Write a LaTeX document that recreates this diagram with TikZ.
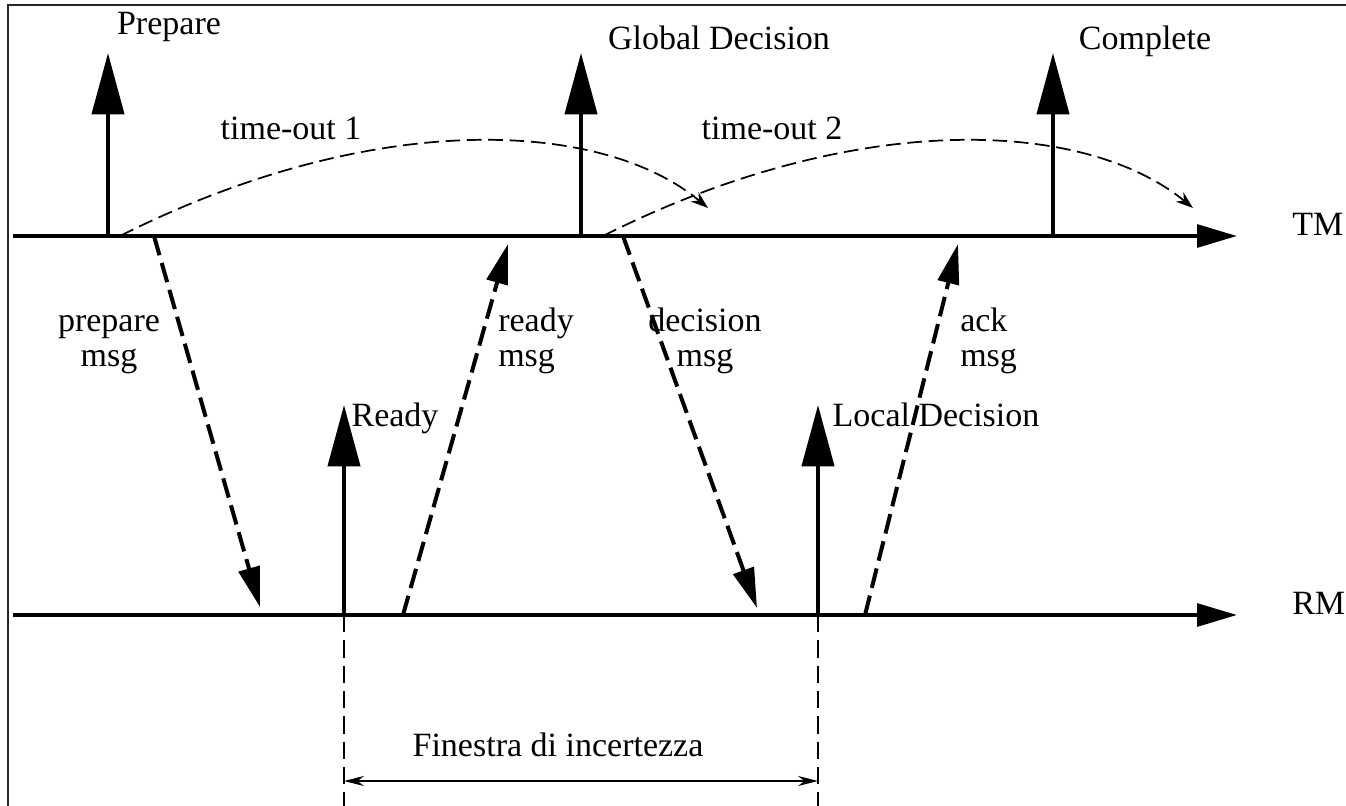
\documentclass[tikz,border=0pt]{standalone}
\usepackage{fontspec}
\setmainfont{Liberation Serif}
\usetikzlibrary{arrows.meta}
\begin{document}
\begin{tikzpicture}[x=0.75pt,y=-0.75pt,
 lbl/.style={inner sep=0pt, font=\fontsize{25.5}{26.25}\selectfont},
 axisline/.style={line width=3pt, -{Triangle[length=30pt,width=17pt]}},
 event/.style={line width=3pt, -{Triangle[length=46pt,width=24pt]}},
 msgarrow/.style={line width=3pt, dash pattern=on 15pt off 6pt, -{Triangle[length=30pt,width=16pt]}},
 timeout/.style={line width=1.3pt, dash pattern=on 11pt off 5pt, -{Stealth[length=13pt,width=9pt]}},
 guide/.style={line width=1.1pt, dash pattern=on 13pt off 6pt},
 window/.style={line width=1.1pt, {Stealth[length=15pt,width=7.5pt]}-{Stealth[length=15pt,width=7.5pt]}},
 frame/.style={line width=1.2pt, black!85}
]
\useasboundingbox (0,0) rectangle (1346,806);
\draw[frame] (8,5) rectangle (1360,820);

% axes
\coordinate (tmS) at (13,236); \coordinate (tmE) at (1237,236);
\coordinate (rmS) at (13,615); \coordinate (rmE) at (1237,615);
\draw[axisline] (tmS) -- (tmE);
\draw[axisline] (rmS) -- (rmE);
\node[lbl, anchor=base west] (tm) at (1292,235) {TM};
\node[lbl, anchor=base west] (rm) at (1292,614) {RM};

% events on TM
\coordinate (prepB) at (108,236); \coordinate (prepT) at (108,53);
\coordinate (globB) at (581,236); \coordinate (globT) at (581,53);
\coordinate (compB) at (1053,236); \coordinate (compT) at (1053,53);
\draw[event] (prepB) -- (prepT);
\draw[event] (globB) -- (globT);
\draw[event] (compB) -- (compT);
\node[lbl, anchor=base] (prepL) at (169,35) {Prepare};
\node[lbl, anchor=base] (globL) at (719,50) {Global Decision};
\node[lbl, anchor=base] (compL) at (1145,50) {Complete};

% events on RM
\coordinate (readyB) at (344,615); \coordinate (readyT) at (344,405);
\coordinate (localB) at (818,615); \coordinate (localT) at (818,405);
\draw[event] (readyB) -- (readyT);
\draw[event] (localB) -- (localT);
\node[lbl, anchor=base] (readyL) at (395,426) {Ready};
\node[lbl, anchor=base] (localL) at (936,426) {Local Decision};

% time-outs
\coordinate (to1S) at (120,236); \coordinate (to1E) at (708,208);
\coordinate (to2S) at (603,236); \coordinate (to2E) at (1193,208);
\draw[timeout] (to1S) .. controls (370,110) and (600,118) .. (to1E);
\draw[timeout] (to2S) .. controls (853,110) and (1083,118) .. (to2E);
\node[lbl, anchor=base] (to1L) at (291,140) {time-out 1};
\node[lbl, anchor=base] (to2L) at (772,140) {time-out 2};

% messages
\coordinate (pmS) at (154,236); \coordinate (pmE) at (260,607);
\coordinate (rmsS) at (403,615); \coordinate (rmsE) at (508,244);
\coordinate (dmS) at (623,236); \coordinate (dmE) at (757,608);
\coordinate (amS) at (865,615); \coordinate (amE) at (958,244);
\draw[msgarrow] (pmS) -- (pmE);
\draw[msgarrow] (rmsS) -- (rmsE);
\draw[msgarrow] (dmS) -- (dmE);
\draw[msgarrow] (amS) -- (amE);
\node[lbl, align=center, anchor=base] (pmL) at (109,366) {prepare\\msg};
\node[lbl, align=left, anchor=base west] (rmsL) at (498,366) {ready\\msg};
\node[lbl, align=center, anchor=base] (dmL) at (705,366) {decision\\msg};
\node[lbl, align=left, anchor=base west] (amL) at (960,366) {ack\\msg};

% uncertainty window
\coordinate (g1) at (344,810); \coordinate (g2) at (818,810);
\draw[guide] (readyB) -- (g1);
\draw[guide] (localB) -- (g2);
\coordinate (w1) at (344,781); \coordinate (w2) at (818,781);
\draw[window] (w1) -- (w2);
\node[lbl, anchor=base] (winL) at (558,756) {Finestra di incertezza};
\end{tikzpicture}
\end{document}
